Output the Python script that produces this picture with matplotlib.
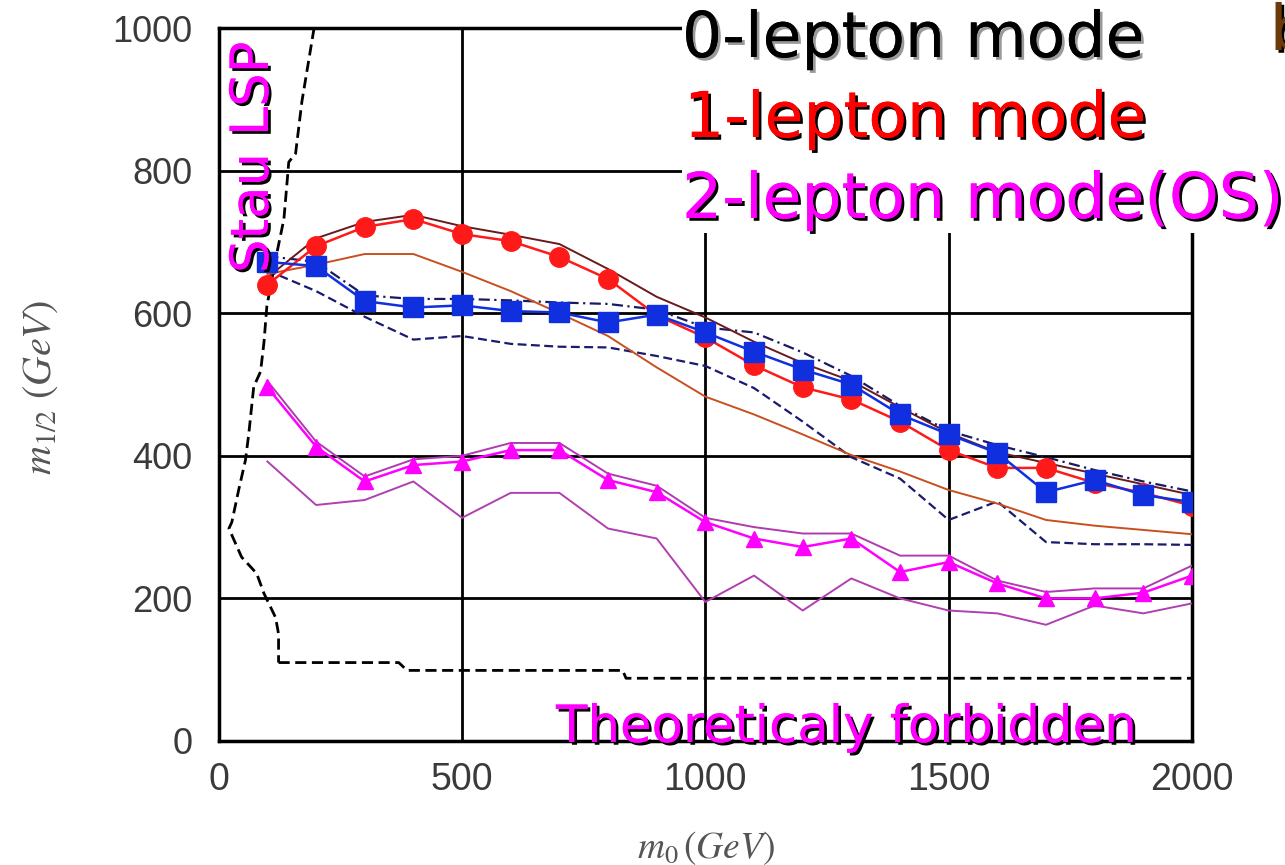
import matplotlib.pyplot as plt
import matplotlib.patheffects as pe
from matplotlib.patches import Rectangle
from matplotlib import font_manager

# m0 scan points (GeV)
m0 = [100, 200, 300, 400, 500, 600, 700, 800, 900, 1000,
      1100, 1200, 1300, 1400, 1500, 1600, 1700, 1800, 1900, 2000]

# 0-lepton mode (blue)
zero_lep = [672, 666, 617, 608, 611, 603, 601, 587, 598, 573,
            546, 521, 500, 458, 430, 404, 349, 366, 345, 335]
zero_lep_upper = [680, 672, 625, 620, 620, 618, 615, 613, 605, 580,
                  573, 545, 512, 470, 435, 415, 398, 380, 364, 350]
zero_lep_lower = [660, 631, 595, 563, 568, 557, 553, 552, 540, 526,
                  495, 448, 398, 368, 310, 336, 279, 276, 276, 275]

# 1-lepton mode (red)
one_lep = [640, 694, 721, 732, 711, 701, 679, 648, 597, 566,
           527, 496, 479, 448, 408, 383, 383, 362, 348, 330]
one_lep_upper = [650, 705, 728, 738, 722, 710, 697, 662, 623, 594,
                 560, 530, 505, 468, 432, 405, 390, 375, 360, 345]
one_lep_lower = [655, 668, 683, 683, 658, 631, 600, 568, 524, 483,
                 458, 430, 401, 378, 352, 333, 310, 302, 296, 290]

# 2-lepton mode OS (magenta)
two_lep = [496, 413, 364, 387, 392, 408, 408, 366, 349, 307,
           284, 272, 284, 237, 251, 221, 200, 200, 208, 232]
two_lep_upper = [505, 420, 371, 395, 400, 418, 418, 375, 358, 313,
                 300, 291, 291, 260, 260, 225, 209, 214, 214, 246]
two_lep_lower = [392, 331, 338, 364, 313, 348, 348, 298, 284, 195,
                 232, 183, 228, 200, 183, 179, 163, 190, 179, 193]

# stau LSP boundary
stau_x = [196, 171, 158, 144, 134, 120, 99, 93, 86, 72, 62, 55,
          41, 27, 21, 47, 78, 93, 117, 123, 123]
stau_y = [1000, 897, 824, 812, 732, 686, 610, 559, 518, 497, 432, 394,
          352, 307, 298, 258, 235, 207, 173, 150, 110]

# theoretically forbidden boundary
forbid_x = [123, 370, 387, 830, 837, 2000]
forbid_y = [110, 110, 99, 99, 88, 88]

W, H = 1285, 865


def px(x, y):
    return x / W, 1 - y / H


names = {f.name for f in font_manager.fontManager.ttflist}
xtick_font = 'Liberation Sans Narrow' if 'Liberation Sans Narrow' in names else 'Liberation Sans'
xtick_size = 31 if xtick_font == 'Liberation Sans Narrow' else 27

plt.rcParams['mathtext.fontset'] = 'stix'

fig = plt.figure(figsize=(W / 100, H / 100), dpi=100)
ax = fig.add_axes([218.7 / W, (H - 741) / H, (1192 - 218.7) / W, (741 - 28) / H])

# boundaries
ax.plot(stau_x, stau_y, color='k', lw=2, ls=(0, (4, 2)), zorder=3)
ax.plot(forbid_x, forbid_y, color='k', lw=2, ls=(0, (4, 2)), zorder=3)

# 0-lepton
ax.plot(m0, zero_lep_upper, color='#1a1a60', lw=1.6, ls=(0, (5, 2, 1, 2)), zorder=4)
ax.plot(m0, zero_lep_lower, color='#1a1a70', lw=1.6, ls=(0, (4, 2)), zorder=4)
ax.plot(m0, zero_lep, color='#1030e0', lw=1.8, marker='s', ms=14, zorder=6)

# 1-lepton
ax.plot(m0, one_lep_upper, color='#6a1a1a', lw=1.4, zorder=4)
ax.plot(m0, one_lep_lower, color='#c8501e', lw=1.4, zorder=4)
ax.plot(m0, one_lep, color='#ff1a1a', lw=1.8, marker='o', ms=14, zorder=5)

# 2-lepton
ax.plot(m0, two_lep_upper, color='#b03ab0', lw=1.4, zorder=4)
ax.plot(m0, two_lep_lower, color='#b040b0', lw=1.4, zorder=4)
ax.plot(m0, two_lep, color='#ff00ff', lw=1.8, marker='^', ms=12, zorder=5)

ax.set_xlim(0, 2000)
ax.set_ylim(0, 1000)
ax.set_xticks([0, 500, 1000, 1500, 2000])
ax.set_yticks([0, 200, 400, 600, 800, 1000])
ax.grid(True, color='k', lw=2)
ax.set_axisbelow(True)
for s in ax.spines.values():
    s.set_linewidth(2.5)
ax.tick_params(length=0)
ax.tick_params(axis='x', pad=15)
ax.tick_params(axis='y', pad=19)
for lab in ax.get_xticklabels():
    lab.set_fontfamily(xtick_font)
    lab.set_fontsize(xtick_size)
    lab.set_color('#3a3a3a')
for lab in ax.get_yticklabels():
    lab.set_fontfamily('Liberation Sans')
    lab.set_fontsize(26)
    lab.set_color('#3a3a3a')

# axis labels
fig.text(*px(40, 388), r'$m_{1/2}\ (GeV)$', rotation=90, ha='center', va='center',
         fontsize=29, color='#555555')
fig.text(*px(706, 848), r'$m_0\,(GeV)$', ha='center', va='center',
         fontsize=27, color='#555555')

# white box behind the mode labels
fig.add_artist(Rectangle(px(682, 233), (W - 682) / W, 233 / H, transform=fig.transFigure,
                         facecolor='white', edgecolor='none', zorder=5))

black_sh = [pe.withSimplePatchShadow(offset=(2, -2), shadow_rgbFace='black', alpha=1), pe.Normal()]
gray_sh = [pe.withSimplePatchShadow(offset=(2, -2), shadow_rgbFace='#9a9a9a', alpha=1), pe.Normal()]

fig.text(*px(682, 57), '0-lepton mode', fontsize=45.5, color='black', ha='left', va='baseline',
         path_effects=gray_sh, zorder=6)
fig.text(*px(684, 137), '1-lepton mode', fontsize=45.5, color='#ff0000', ha='left', va='baseline',
         path_effects=black_sh, zorder=6)
fig.text(*px(682, 218), '2-lepton mode(OS)', fontsize=45.5, color='#ff00ff', ha='left', va='baseline',
         path_effects=black_sh, zorder=6)
fig.text(*px(1270, 50), 'b', fontsize=45.5, color='#6b3a08', ha='left', va='baseline',
         path_effects=black_sh, zorder=6)

fig.text(*px(268, 273), 'Stau LSP', fontsize=38, color='#ff00ff', rotation=90,
         rotation_mode='anchor', ha='left', va='baseline', path_effects=black_sh, zorder=6)
fig.text(*px(556, 742), 'Theoreticaly forbidden', fontsize=37, color='#ff00ff', ha='left',
         va='baseline', path_effects=black_sh, zorder=6)

plt.savefig('out.png', dpi=100, facecolor='white')
